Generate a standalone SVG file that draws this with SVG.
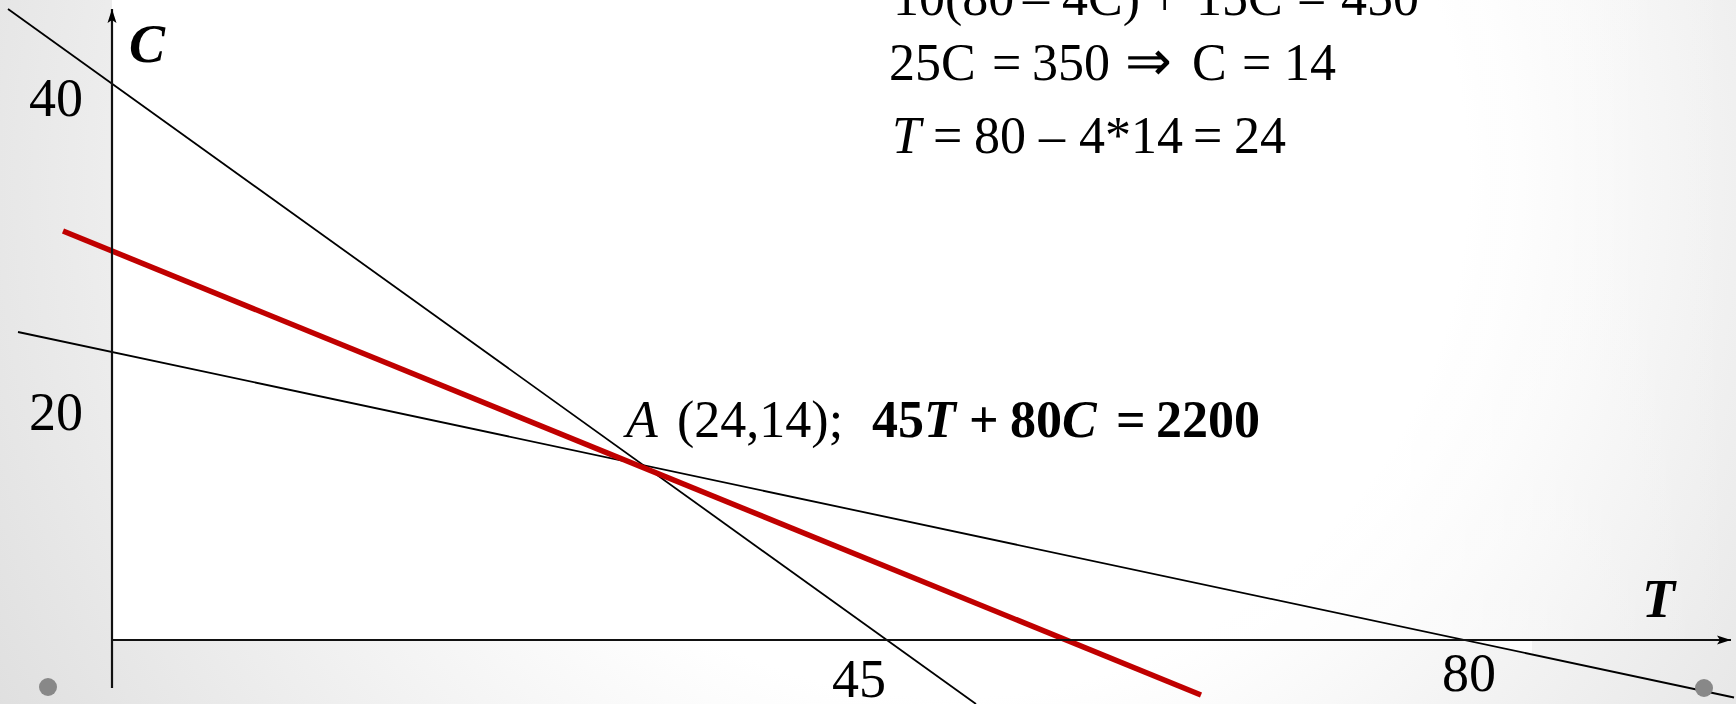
<svg xmlns="http://www.w3.org/2000/svg" width="1736" height="704" viewBox="0 0 1736 704">
<defs>
<radialGradient id="bg" gradientUnits="userSpaceOnUse" cx="950" cy="180" r="1150">
<stop offset="0" stop-color="#ffffff"/>
<stop offset="0.45" stop-color="#ffffff"/>
<stop offset="1" stop-color="#dcdcdc"/>
</radialGradient>
<linearGradient id="plotfade" gradientUnits="userSpaceOnUse" x1="112" y1="0" x2="1736" y2="0">
<stop offset="0" stop-color="#ffffff" stop-opacity="1"/>
<stop offset="0.6" stop-color="#ffffff" stop-opacity="1"/>
<stop offset="1" stop-color="#ffffff" stop-opacity="0"/>
</linearGradient>
<marker id="arr" markerUnits="userSpaceOnUse" markerWidth="16" markerHeight="12" refX="14" refY="6" orient="auto">
<path d="M0,1.5 L14,6 L0,10.5 L3,6 Z" fill="#000"/>
</marker>
<style>
.t{font-family:"Liberation Serif","Times New Roman",serif;fill:#000}
.eq{font-size:52px}
.ax{font-size:54px}
.it{font-style:italic}
.b{font-weight:bold}
.arrow{font-family:"DejaVu Sans","Noto Sans",sans-serif;font-size:56px;font-weight:200}
.thin{stroke:#000;stroke-width:1.8;fill:none}
.axis{stroke:#111;stroke-width:2.2;fill:none}
.red{stroke:#c00000;stroke-width:5.5;fill:none}
</style>
</defs>
<rect x="0" y="0" width="1736" height="704" fill="url(#bg)"/>
<rect x="112" y="0" width="1624" height="640" fill="url(#plotfade)"/>
<polygon points="1462,641 1532,641 1532,655" fill="#ffffff" opacity="0.8"/>

<g id="connectors">
<line id="line-constraint1" class="thin" x1="8" y1="9" x2="976" y2="704"/>
<line id="line-constraint2" class="thin" x1="18" y1="332" x2="1734" y2="697.5"/>
<line id="line-objective" class="red" x1="63" y1="231" x2="1201" y2="695"/>
<line id="axis-y" class="axis" x1="112" y1="688" x2="112" y2="9" marker-end="url(#arr)"/>
<line id="axis-x" class="axis" x1="112" y1="640" x2="1731" y2="640" marker-end="url(#arr)"/>
</g>

<g id="label-C"><text class="t ax it b" x="129" y="62">C</text></g>
<g id="label-T"><text class="t ax it b" x="1642" y="617">T</text></g>
<g id="tick-40"><text class="t ax" x="29" y="116">40</text></g>
<g id="tick-20"><text class="t ax" x="29" y="430">20</text></g>
<g id="tick-45"><text class="t ax" x="832" y="697">45</text></g>
<g id="tick-80"><text class="t ax" x="1442" y="691">80</text></g>

<g id="equations">
<text class="t eq" y="15"><tspan x="893">10(80</tspan><tspan x="1023">–</tspan><tspan x="1062">4C)</tspan><tspan x="1150">+</tspan><tspan x="1196">15C</tspan><tspan x="1297">=</tspan><tspan x="1341">450</tspan></text>
<text class="t eq" y="80"><tspan x="889">25C</tspan><tspan x="992">=</tspan><tspan x="1032">350</tspan><tspan x="1125" class="arrow">⇒</tspan><tspan x="1192">C</tspan><tspan x="1242">=</tspan><tspan x="1284">14</tspan></text>
<text class="t eq" y="153"><tspan x="892" class="it">T</tspan><tspan x="933">=</tspan><tspan x="974">80</tspan><tspan x="1039">–</tspan><tspan x="1079">4*14</tspan><tspan x="1193">=</tspan><tspan x="1234">24</tspan></text>
</g>

<g id="point-A">
<text class="t eq" y="437"><tspan x="626" class="it">A</tspan><tspan x="677">(24,14);</tspan><tspan x="872" class="b">45</tspan><tspan class="b it">T</tspan><tspan x="969" class="b">+</tspan><tspan x="1010" class="b">80</tspan><tspan class="b it">C</tspan><tspan x="1116" class="b">=</tspan><tspan x="1156" class="b">2200</tspan></text>
</g>

<g id="dots">
<circle cx="48" cy="687" r="9" fill="#888888"/>
<circle cx="1704" cy="688" r="9" fill="#888888"/>
</g>
</svg>
